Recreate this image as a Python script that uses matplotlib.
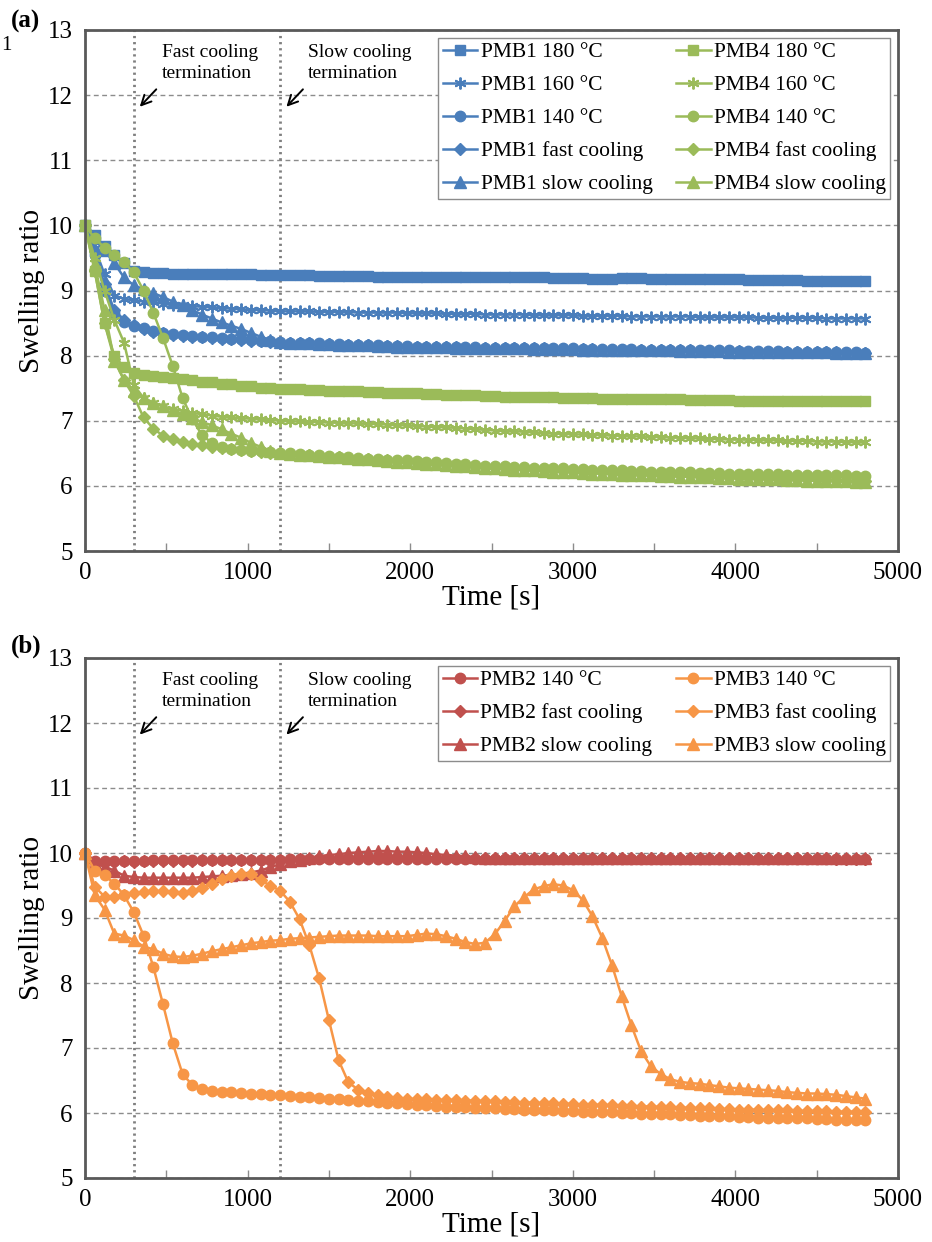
import matplotlib.pyplot as plt
import numpy as np

plt.rcParams['font.family'] = ['Liberation Serif', 'DejaVu Serif']

# sampling every 60 s, 0 .. 4800 s
time_s = np.arange(0, 4801, 60)
terminations = [300, 1200]

# ---- panel (a) ----
pmb1_180 = [10.0, 9.85, 9.68, 9.55, 9.42, 9.30, 9.28, 9.27, 9.27, 9.26,
            9.26, 9.26, 9.26, 9.25, 9.25, 9.25, 9.25, 9.25, 9.24, 9.24,
            9.24, 9.24, 9.24, 9.24, 9.23, 9.23, 9.23, 9.23, 9.22, 9.22,
            9.21, 9.20, 9.20, 9.20, 9.20, 9.20, 9.20, 9.20, 9.20, 9.20,
            9.20, 9.20, 9.20, 9.21, 9.21, 9.21, 9.20, 9.20, 9.19, 9.19,
            9.19, 9.19, 9.18, 9.18, 9.18, 9.19, 9.19, 9.19, 9.18, 9.18,
            9.18, 9.18, 9.17, 9.17, 9.17, 9.17, 9.17, 9.17, 9.16, 9.16,
            9.16, 9.16, 9.16, 9.16, 9.15, 9.15, 9.15, 9.15, 9.15, 9.15, 9.14]
pmb1_160 = [10.0, 9.65, 9.25, 8.92, 8.87, 8.85, 8.83, 8.82, 8.80, 8.78,
            8.77, 8.76, 8.75, 8.74, 8.73, 8.72, 8.71, 8.70, 8.70, 8.69,
            8.68, 8.68, 8.68, 8.68, 8.67, 8.67, 8.67, 8.67, 8.66, 8.66,
            8.66, 8.66, 8.66, 8.65, 8.65, 8.65, 8.65, 8.64, 8.64, 8.64,
            8.64, 8.63, 8.63, 8.63, 8.63, 8.63, 8.62, 8.62, 8.62, 8.62,
            8.62, 8.61, 8.61, 8.61, 8.61, 8.61, 8.60, 8.60, 8.60, 8.60,
            8.60, 8.60, 8.60, 8.59, 8.59, 8.59, 8.59, 8.59, 8.59, 8.58,
            8.58, 8.58, 8.58, 8.58, 8.58, 8.58, 8.57, 8.57, 8.57, 8.57, 8.57]
pmb1_140 = [10.0, 9.55, 9.00, 8.65, 8.52, 8.46, 8.42, 8.38, 8.35, 8.33,
            8.31, 8.30, 8.29, 8.28, 8.27, 8.26, 8.25, 8.24, 8.23, 8.22,
            8.21, 8.20, 8.20, 8.19, 8.19, 8.18, 8.18, 8.17, 8.17, 8.16,
            8.16, 8.15, 8.15, 8.15, 8.14, 8.14, 8.14, 8.13, 8.13, 8.13,
            8.13, 8.12, 8.12, 8.12, 8.12, 8.12, 8.11, 8.11, 8.11, 8.11,
            8.11, 8.10, 8.10, 8.10, 8.10, 8.10, 8.10, 8.09, 8.09, 8.09,
            8.09, 8.09, 8.08, 8.08, 8.08, 8.08, 8.08, 8.07, 8.07, 8.07,
            8.07, 8.07, 8.06, 8.06, 8.06, 8.06, 8.06, 8.05, 8.05, 8.05, 8.04]
pmb1_fast = [10.0, 9.60, 9.10, 8.70, 8.55, 8.47, 8.41, 8.37, 8.34, 8.32,
             8.30, 8.29, 8.28, 8.27, 8.26, 8.25, 8.24, 8.23, 8.22, 8.21,
             8.20, 8.20, 8.19, 8.19, 8.18, 8.18, 8.17, 8.17, 8.16, 8.16,
             8.15, 8.15, 8.15, 8.14, 8.14, 8.14, 8.13, 8.13, 8.13, 8.12,
             8.12, 8.12, 8.12, 8.11, 8.11, 8.11, 8.11, 8.11, 8.10, 8.10,
             8.10, 8.10, 8.10, 8.09, 8.09, 8.09, 8.09, 8.09, 8.08, 8.08,
             8.08, 8.08, 8.08, 8.07, 8.07, 8.07, 8.07, 8.07, 8.06, 8.06,
             8.06, 8.06, 8.06, 8.05, 8.05, 8.05, 8.05, 8.05, 8.04, 8.04, 8.04]
pmb1_slow = [10.0, 9.80, 9.62, 9.42, 9.20, 9.08, 9.02, 8.96, 8.90, 8.83,
             8.77, 8.70, 8.63, 8.57, 8.51, 8.46, 8.41, 8.35, 8.29, 8.24,
             8.21, 8.20, 8.19, 8.19, 8.18, 8.18, 8.17, 8.17, 8.16, 8.16,
             8.15, 8.15, 8.14, 8.14, 8.14, 8.13, 8.13, 8.13, 8.12, 8.12,
             8.12, 8.12, 8.11, 8.11, 8.11, 8.11, 8.10, 8.10, 8.10, 8.10,
             8.10, 8.09, 8.09, 8.09, 8.09, 8.09, 8.08, 8.08, 8.08, 8.08,
             8.08, 8.07, 8.07, 8.07, 8.07, 8.07, 8.06, 8.06, 8.06, 8.06,
             8.06, 8.05, 8.05, 8.05, 8.05, 8.05, 8.05, 8.04, 8.04, 8.04, 8.04]
pmb4_180 = [10.0, 9.30, 8.50, 8.00, 7.82, 7.73, 7.71, 7.69, 7.67, 7.66,
            7.64, 7.62, 7.60, 7.59, 7.57, 7.56, 7.54, 7.53, 7.51, 7.50,
            7.49, 7.48, 7.48, 7.47, 7.47, 7.46, 7.46, 7.45, 7.45, 7.44,
            7.44, 7.43, 7.43, 7.42, 7.42, 7.41, 7.41, 7.40, 7.40, 7.40,
            7.39, 7.38, 7.38, 7.37, 7.37, 7.37, 7.36, 7.36, 7.36, 7.35,
            7.35, 7.35, 7.35, 7.34, 7.34, 7.34, 7.34, 7.33, 7.33, 7.33,
            7.33, 7.33, 7.32, 7.32, 7.32, 7.32, 7.32, 7.31, 7.31, 7.31,
            7.31, 7.31, 7.31, 7.30, 7.30, 7.30, 7.30, 7.30, 7.30, 7.30, 7.30]
pmb4_160 = [10.0, 9.50, 9.00, 8.55, 8.20, 7.55, 7.35, 7.27, 7.22, 7.18,
            7.15, 7.12, 7.10, 7.08, 7.06, 7.05, 7.04, 7.03, 7.02, 7.01,
            7.00, 6.99, 6.99, 6.98, 6.98, 6.97, 6.97, 6.96, 6.96, 6.95,
            6.95, 6.94, 6.93, 6.93, 6.92, 6.91, 6.90, 6.90, 6.89, 6.88,
            6.87, 6.86, 6.85, 6.84, 6.84, 6.83, 6.82, 6.81, 6.80, 6.80,
            6.79, 6.79, 6.78, 6.78, 6.77, 6.77, 6.76, 6.76, 6.75, 6.75,
            6.74, 6.74, 6.73, 6.73, 6.72, 6.72, 6.71, 6.71, 6.71, 6.70,
            6.70, 6.70, 6.69, 6.69, 6.69, 6.68, 6.68, 6.68, 6.67, 6.67, 6.67]
pmb4_140 = [10.0, 9.80, 9.66, 9.55, 9.43, 9.28, 9.00, 8.66, 8.27, 7.84,
            7.35, 7.02, 6.78, 6.66, 6.60, 6.57, 6.55, 6.54, 6.53, 6.52,
            6.51, 6.50, 6.49, 6.48, 6.47, 6.46, 6.45, 6.44, 6.43, 6.42,
            6.41, 6.40, 6.39, 6.39, 6.38, 6.37, 6.36, 6.35, 6.34, 6.33,
            6.32, 6.31, 6.30, 6.30, 6.29, 6.29, 6.28, 6.28, 6.27, 6.27,
            6.26, 6.26, 6.25, 6.25, 6.24, 6.24, 6.23, 6.23, 6.22, 6.22,
            6.22, 6.21, 6.21, 6.20, 6.20, 6.20, 6.19, 6.19, 6.19, 6.18,
            6.18, 6.18, 6.17, 6.17, 6.17, 6.16, 6.16, 6.16, 6.16, 6.15, 6.15]
pmb4_fast = [10.0, 9.30, 8.50, 7.95, 7.62, 7.38, 7.05, 6.88, 6.77, 6.72,
             6.68, 6.65, 6.62, 6.60, 6.58, 6.56, 6.55, 6.54, 6.52, 6.51,
             6.50, 6.49, 6.48, 6.47, 6.46, 6.45, 6.44, 6.43, 6.42, 6.41,
             6.40, 6.39, 6.38, 6.37, 6.36, 6.35, 6.34, 6.33, 6.32, 6.31,
             6.30, 6.29, 6.29, 6.28, 6.27, 6.26, 6.26, 6.25, 6.24, 6.23,
             6.23, 6.22, 6.21, 6.21, 6.20, 6.19, 6.19, 6.18, 6.18, 6.17,
             6.17, 6.16, 6.16, 6.15, 6.15, 6.14, 6.14, 6.13, 6.13, 6.12,
             6.12, 6.11, 6.11, 6.10, 6.10, 6.10, 6.09, 6.09, 6.08, 6.08, 6.07]
pmb4_slow = [10.0, 9.40, 8.70, 7.92, 7.63, 7.45, 7.35, 7.28, 7.22, 7.16,
             7.10, 7.04, 6.98, 6.93, 6.87, 6.80, 6.74, 6.66, 6.60, 6.54,
             6.50, 6.49, 6.48, 6.47, 6.46, 6.45, 6.44, 6.43, 6.42, 6.41,
             6.40, 6.38, 6.37, 6.36, 6.35, 6.34, 6.33, 6.32, 6.31, 6.30,
             6.29, 6.28, 6.27, 6.26, 6.25, 6.25, 6.24, 6.23, 6.22, 6.21,
             6.21, 6.20, 6.19, 6.19, 6.18, 6.17, 6.17, 6.16, 6.16, 6.15,
             6.15, 6.14, 6.14, 6.13, 6.13, 6.12, 6.12, 6.11, 6.11, 6.10,
             6.10, 6.10, 6.09, 6.09, 6.08, 6.08, 6.08, 6.07, 6.07, 6.06, 6.06]

# ---- panel (b) ----
pmb2_140 = [10.0, 9.88, 9.87, 9.87, 9.88, 9.88, 9.88, 9.89, 9.89, 9.89,
            9.89, 9.90, 9.90, 9.90, 9.90, 9.90, 9.90, 9.90, 9.90, 9.90,
            9.90, 9.91, 9.91, 9.91, 9.91, 9.91, 9.91, 9.91, 9.91, 9.91,
            9.91, 9.91, 9.91, 9.91, 9.91, 9.91, 9.91, 9.91, 9.91, 9.91,
            9.91, 9.91, 9.91, 9.91, 9.91, 9.91, 9.91, 9.91, 9.91, 9.91,
            9.91, 9.91, 9.91, 9.91, 9.91, 9.91, 9.91, 9.91, 9.91, 9.91,
            9.91, 9.91, 9.91, 9.91, 9.91, 9.91, 9.91, 9.91, 9.91, 9.91,
            9.91, 9.91, 9.91, 9.91, 9.91, 9.91, 9.91, 9.91, 9.91, 9.91, 9.91]
pmb2_fast = [10.0, 9.85, 9.84, 9.86, 9.87, 9.86, 9.87, 9.88, 9.88, 9.87,
             9.88, 9.88, 9.89, 9.89, 9.89, 9.89, 9.89, 9.90, 9.90, 9.90,
             9.90, 9.90, 9.91, 9.91, 9.92, 9.92, 9.93, 9.93, 9.93, 9.94,
             9.94, 9.94, 9.93, 9.93, 9.93, 9.92, 9.92, 9.92, 9.92, 9.92,
             9.92, 9.92, 9.92, 9.92, 9.92, 9.92, 9.92, 9.92, 9.92, 9.92,
             9.92, 9.92, 9.92, 9.92, 9.92, 9.92, 9.92, 9.92, 9.92, 9.92,
             9.92, 9.92, 9.92, 9.92, 9.92, 9.92, 9.92, 9.92, 9.92, 9.92,
             9.92, 9.92, 9.92, 9.92, 9.92, 9.92, 9.92, 9.91, 9.91, 9.91, 9.91]
pmb2_slow = [10.0, 9.84, 9.79, 9.73, 9.65, 9.63, 9.62, 9.62, 9.62, 9.62,
             9.62, 9.62, 9.63, 9.64, 9.65, 9.66, 9.68, 9.70, 9.73, 9.78,
             9.83, 9.88, 9.90, 9.93, 9.95, 9.97, 9.98, 10.00, 10.01, 10.02,
             10.03, 10.03, 10.02, 10.02, 10.01, 10.00, 9.98, 9.97, 9.96, 9.95,
             9.94, 9.93, 9.93, 9.92, 9.92, 9.92, 9.92, 9.92, 9.92, 9.92,
             9.92, 9.92, 9.92, 9.92, 9.92, 9.92, 9.92, 9.92, 9.92, 9.92,
             9.92, 9.92, 9.92, 9.92, 9.92, 9.92, 9.92, 9.92, 9.92, 9.92,
             9.92, 9.92, 9.92, 9.92, 9.92, 9.92, 9.92, 9.92, 9.92, 9.92, 9.92]
pmb3_140 = [10.0, 9.73, 9.66, 9.53, 9.35, 9.09, 8.73, 8.25, 7.67, 7.07,
            6.60, 6.43, 6.37, 6.34, 6.33, 6.32, 6.31, 6.30, 6.29, 6.28,
            6.27, 6.26, 6.25, 6.24, 6.23, 6.22, 6.21, 6.20, 6.19, 6.18,
            6.17, 6.16, 6.15, 6.14, 6.13, 6.12, 6.11, 6.10, 6.09, 6.09,
            6.08, 6.07, 6.07, 6.06, 6.06, 6.05, 6.05, 6.04, 6.04, 6.03,
            6.03, 6.02, 6.02, 6.01, 6.01, 6.00, 6.00, 5.99, 5.99, 5.98,
            5.98, 5.97, 5.97, 5.96, 5.96, 5.95, 5.95, 5.94, 5.94, 5.93,
            5.93, 5.93, 5.92, 5.92, 5.92, 5.91, 5.91, 5.90, 5.90, 5.90, 5.89]
pmb3_fast = [10.0, 9.48, 9.33, 9.33, 9.36, 9.38, 9.40, 9.41, 9.41, 9.40,
             9.38, 9.42, 9.46, 9.53, 9.60, 9.65, 9.68, 9.67, 9.58, 9.50,
             9.42, 9.25, 8.98, 8.58, 8.07, 7.43, 6.81, 6.47, 6.36, 6.31,
             6.27, 6.25, 6.23, 6.22, 6.21, 6.21, 6.20, 6.20, 6.20, 6.19,
             6.19, 6.18, 6.18, 6.17, 6.17, 6.16, 6.16, 6.15, 6.15, 6.14,
             6.14, 6.13, 6.13, 6.12, 6.12, 6.11, 6.11, 6.10, 6.10, 6.09,
             6.09, 6.08, 6.08, 6.07, 6.07, 6.06, 6.06, 6.05, 6.05, 6.05,
             6.04, 6.04, 6.04, 6.03, 6.03, 6.03, 6.03, 6.02, 6.02, 6.02, 6.02]
pmb3_slow = [10.0, 9.35, 9.13, 8.76, 8.73, 8.66, 8.56, 8.52, 8.45, 8.41,
             8.40, 8.42, 8.45, 8.49, 8.52, 8.55, 8.58, 8.61, 8.63, 8.65,
             8.66, 8.68, 8.69, 8.70, 8.71, 8.72, 8.73, 8.73, 8.73, 8.73,
             8.72, 8.72, 8.72, 8.72, 8.74, 8.76, 8.75, 8.72, 8.68, 8.63,
             8.60, 8.62, 8.75, 8.95, 9.18, 9.32, 9.44, 9.49, 9.52, 9.50,
             9.43, 9.28, 9.03, 8.70, 8.28, 7.80, 7.35, 6.95, 6.72, 6.60,
             6.52, 6.48, 6.46, 6.45, 6.43, 6.41, 6.39, 6.38, 6.37, 6.36,
             6.35, 6.34, 6.32, 6.31, 6.30, 6.30, 6.29, 6.28, 6.26, 6.24, 6.22]

blue = '#4A7EBB'
green = '#9BBB59'
red = '#C0504D'
orange = '#F79646'

asterisk = (6, 2, 0)
marker_style = {
    's': dict(ms=6.5, mew=1),
    asterisk: dict(ms=8.5, mew=1.4),
    'o': dict(ms=7.5, mew=1),
    'D': dict(ms=6.2, mew=1),
    '^': dict(ms=8, mew=1),
}

series_a = [
    ('PMB1 180 °C', pmb1_180, blue, 's'),
    ('PMB1 160 °C', pmb1_160, blue, asterisk),
    ('PMB1 140 °C', pmb1_140, blue, 'o'),
    ('PMB1 fast cooling', pmb1_fast, blue, 'D'),
    ('PMB1 slow cooling', pmb1_slow, blue, '^'),
    ('PMB4 180 °C', pmb4_180, green, 's'),
    ('PMB4 160 °C', pmb4_160, green, asterisk),
    ('PMB4 140 °C', pmb4_140, green, 'o'),
    ('PMB4 fast cooling', pmb4_fast, green, 'D'),
    ('PMB4 slow cooling', pmb4_slow, green, '^'),
]
series_b = [
    ('PMB2 140 °C', pmb2_140, red, 'o'),
    ('PMB2 fast cooling', pmb2_fast, red, 'D'),
    ('PMB2 slow cooling', pmb2_slow, red, '^'),
    ('PMB3 140 °C', pmb3_140, orange, 'o'),
    ('PMB3 fast cooling', pmb3_fast, orange, 'D'),
    ('PMB3 slow cooling', pmb3_slow, orange, '^'),
]

arrow_props = dict(arrowstyle='->,head_length=0.7,head_width=0.35', color='k', lw=1.4)


def draw_panel(ax, series):
    ax.set_axisbelow(True)
    ax.yaxis.grid(True, linestyle=(0, (3.5, 2.5)), color='#8c8c8c', linewidth=1.0)
    for t in terminations:
        ax.axvline(t, color='#7f7f7f', linestyle=(0, (0.8, 1.4)), linewidth=2.0, zorder=1.5)

    for label, values, color, marker in series:
        ax.plot(time_s, values, color=color, lw=1.8, marker=marker,
                mfc=color, mec=color, label=label, clip_on=False,
                **marker_style[marker])

    # termination notes
    ax.text(475, 12.78, 'Fast cooling\ntermination', ha='left', va='top',
            fontsize=14, linespacing=1.3)
    ax.annotate('', xy=(325, 11.79), xytext=(450, 12.12), arrowprops=arrow_props)
    ax.text(1373, 12.78, 'Slow cooling\ntermination', ha='left', va='top',
            fontsize=14, linespacing=1.3)
    ax.annotate('', xy=(1227, 11.79), xytext=(1352, 12.12), arrowprops=arrow_props)

    ax.set_xlim(0, 5000)
    ax.set_ylim(5, 13)
    ax.set_xticks(range(0, 5001, 1000))
    ax.set_xticks(range(500, 5000, 1000), minor=True)
    ax.set_yticks(range(5, 14))
    ax.tick_params(axis='x', which='both', direction='in', length=6, width=1,
                   color='#8c8c8c', labelsize=18, pad=8)
    ax.tick_params(axis='y', length=0, labelsize=18, pad=9)
    for side in ['left', 'bottom', 'top', 'right']:
        ax.spines[side].set_color('#595959')
        ax.spines[side].set_linewidth(2.0)

    ax.set_xlabel('Time [s]', fontsize=21, labelpad=0)
    ax.set_ylabel('Swelling ratio', fontsize=21, labelpad=2)

    leg = ax.legend(ncol=2, loc='upper right', fontsize=15.5, frameon=True,
                    fancybox=False, edgecolor='#8c8c8c', framealpha=1,
                    handlelength=1.6, handletextpad=0.15, columnspacing=1.1,
                    labelspacing=0.6, borderpad=0.22, borderaxespad=0.35)
    leg.get_frame().set_linewidth(1.0)


fig = plt.figure(figsize=(9.32, 12.42), dpi=100)
ax_a = fig.add_axes([85 / 932, 1 - 551 / 1242, 813 / 932, 521 / 1242])
ax_b = fig.add_axes([85 / 932, 1 - 1178 / 1242, 813 / 932, 520 / 1242])

draw_panel(ax_a, series_a)
draw_panel(ax_b, series_b)

fig.text(25 / 932, 1 - 21 / 1242, '(a)', fontsize=18, weight='bold', ha='center', va='center')
fig.text(26 / 932, 1 - 646 / 1242, '(b)', fontsize=18, weight='bold', ha='center', va='center')
fig.text(6 / 932, 1 - 46 / 1242, '1', fontsize=15, ha='center', va='center')

fig.savefig('out.png', dpi=100)
